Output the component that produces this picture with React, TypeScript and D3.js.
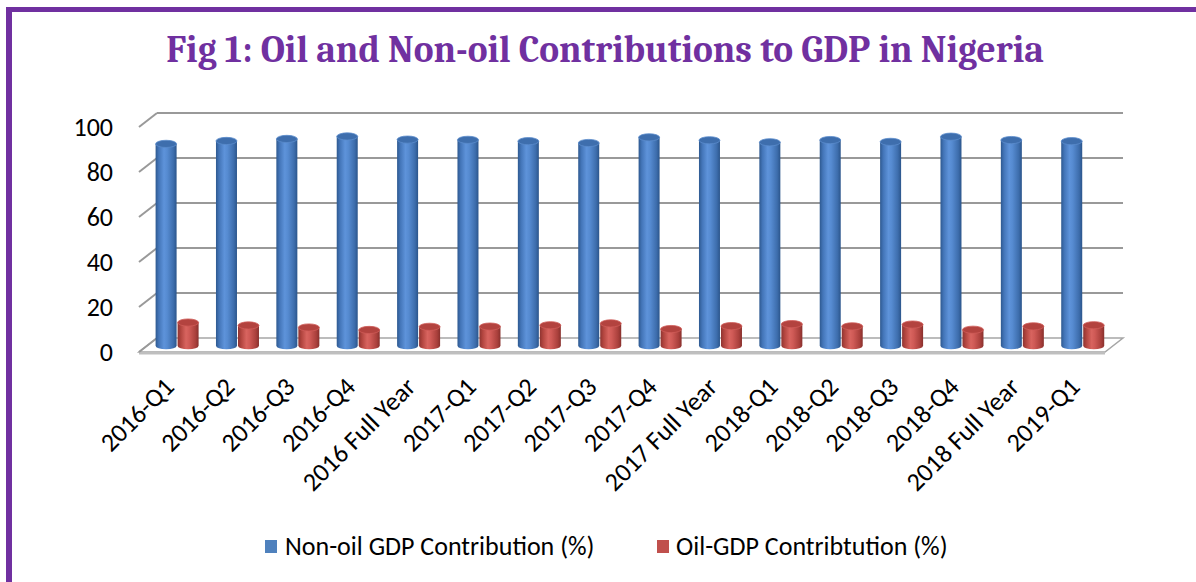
import React from 'react';
import * as d3 from 'd3';

const categories = [
  '2016-Q1', '2016-Q2', '2016-Q3', '2016-Q4', '2016 Full Year',
  '2017-Q1', '2017-Q2', '2017-Q3', '2017-Q4', '2017 Full Year',
  '2018-Q1', '2018-Q2', '2018-Q3', '2018-Q4', '2018 Full Year', '2019-Q1'
];
const nonOilValues = [89.7, 91.0, 91.9, 93.0, 91.6, 91.5, 90.9, 90.1, 92.6, 91.3, 90.4, 91.4, 90.6, 92.9, 91.4, 90.9];
const oilValues = [10.3, 9.0, 8.1, 7.0, 8.4, 8.5, 9.1, 9.9, 7.4, 8.7, 9.6, 8.6, 9.4, 7.1, 8.6, 9.1];
const yTicks = [0, 20, 40, 60, 80, 100];
const seriesNames = ['Non-oil GDP Contribution (%)', 'Oil-GDP Contribtution (%)'];

const W = 1196;
const H = 582;
const floorY = 352;     // front edge of the floor
const depthDx = 18;     // offset of back wall
const depthDy = -14;
const purple = '#7030A0';
const font = 'Carlito, Calibri, Roboto, sans-serif';

const seriesStyle = [
  { base: '#4F81BD', stops: ['#2E5990', '#4375B8', '#5E93DA', '#568BD1', '#3D6DAC', '#2B558B'], top: '#3E6EAD', rim: '#5A8BCB' },
  { base: '#C0504D', stops: ['#8E3431', '#B2453F', '#D8645F', '#CF5A56', '#AA403C', '#88302D'], top: '#B3433F', rim: '#CF5C58' }
];

const App: React.FC = () => {
  const x = d3.scaleBand<string>().domain(categories).range([139, 1105]);
  const inner = d3.scaleBand<number>().domain([0, 1]).range([8, 52]);
  const h = d3.scaleLinear().domain([0, 100]).range([0, 225]);

  const baseDepth = 0.45;
  const rx = inner.bandwidth() / 2 - 0.5;
  const ry = 3.6;

  const cylinder = (cx: number, baseY: number, topY: number) =>
    `M${cx - rx},${topY} L${cx - rx},${baseY} A${rx},${ry} 0 0 0 ${cx + rx},${baseY} L${cx + rx},${topY} Z`;

  const series = [nonOilValues, oilValues];

  return (
    <svg width={W} height={H} style={{ position: 'absolute', left: 0, top: 0, background: '#fff' }}>
      <defs>
        {seriesStyle.map((s, k) => (
          <linearGradient key={k} id={`cyl${k}`} x1="0" x2="1" y1="0" y2="0">
            {s.stops.map((c, j) => (
              <stop key={j} offset={`${[0, 15, 40, 55, 85, 100][j]}%`} stopColor={c} />
            ))}
          </linearGradient>
        ))}
      </defs>

      {/* frame */}
      <line x1={9} x2={W} y1={9.5} y2={9.5} stroke={purple} strokeWidth={5} />
      <line x1={9} x2={9} y1={7} y2={H} stroke={purple} strokeWidth={6} />

      <text x={605} y={62} textAnchor="middle" fill={purple}
        style={{ fontFamily: 'Caladea, Cambria, "Liberation Serif", serif', fontWeight: 'bold', fontSize: 37.4 }}>
        Fig 1: Oil and Non-oil Contributions to GDP in Nigeria
      </text>

      {/* floor */}
      <path d={`M139,${floorY} L1105,${floorY} L1123,${floorY + depthDy} L157,${floorY + depthDy} Z`}
        fill="#fff" stroke="#A6A6A6" strokeWidth={1.5} />
      <rect x={139} y={floorY} width={966} height={2.5} fill="#BFBFBF" />

      {/* gridlines: side wall diagonal + back wall */}
      {yTicks.map(t => (
        <g key={t}>
          <line x1={139} y1={floorY - h(t)} x2={157} y2={floorY + depthDy - h(t)} stroke="#999" strokeWidth={2} />
          {t > 0 && (
            <line x1={157} x2={1123} y1={floorY + depthDy - h(t)} y2={floorY + depthDy - h(t)} stroke="#999" strokeWidth={2} />
          )}
          <text x={113} y={floorY - h(t)} dy="0.35em" textAnchor="end"
            style={{ fontFamily: font, fontSize: 26 }} fill="#000">{t}</text>
        </g>
      ))}

      {/* cylinders */}
      {categories.map((c, i) => (
        <g key={c}>
          {series.map((vals, k) => {
            const cx = (x(c) as number) + (inner(k) as number) + inner.bandwidth() / 2 + depthDx * baseDepth;
            const baseY = floorY + depthDy * baseDepth;
            const topY = baseY - h(vals[i]);
            const s = seriesStyle[k];
            return (
              <g key={k}>
                <path d={cylinder(cx, baseY, topY)} fill={`url(#cyl${k})`} />
                <ellipse cx={cx} cy={topY} rx={rx} ry={ry} fill={s.top} stroke={s.rim} strokeWidth={0.8} />
              </g>
            );
          })}
        </g>
      ))}

      {/* category labels */}
      {categories.map(c => {
        const tx = (x(c) as number) + x.bandwidth() / 2;
        const ty = 382;
        return (
          <text key={c} x={tx} y={ty} dy="0.35em" textAnchor="end" transform={`rotate(-45, ${tx}, ${ty})`}
            style={{ fontFamily: font, fontSize: 26 }} fill="#000">{c}</text>
        );
      })}

      {/* legend */}
      <rect x={265} y={540} width={12} height={13} fill={seriesStyle[0].base} />
      <text x={285} y={555} style={{ fontFamily: font, fontSize: 26 }} fill="#000">{seriesNames[0]}</text>
      <rect x={657} y={540} width={12} height={13} fill={seriesStyle[1].base} />
      <text x={676} y={555} style={{ fontFamily: font, fontSize: 26 }} fill="#000">{seriesNames[1]}</text>
    </svg>
  );
};

export default App;
